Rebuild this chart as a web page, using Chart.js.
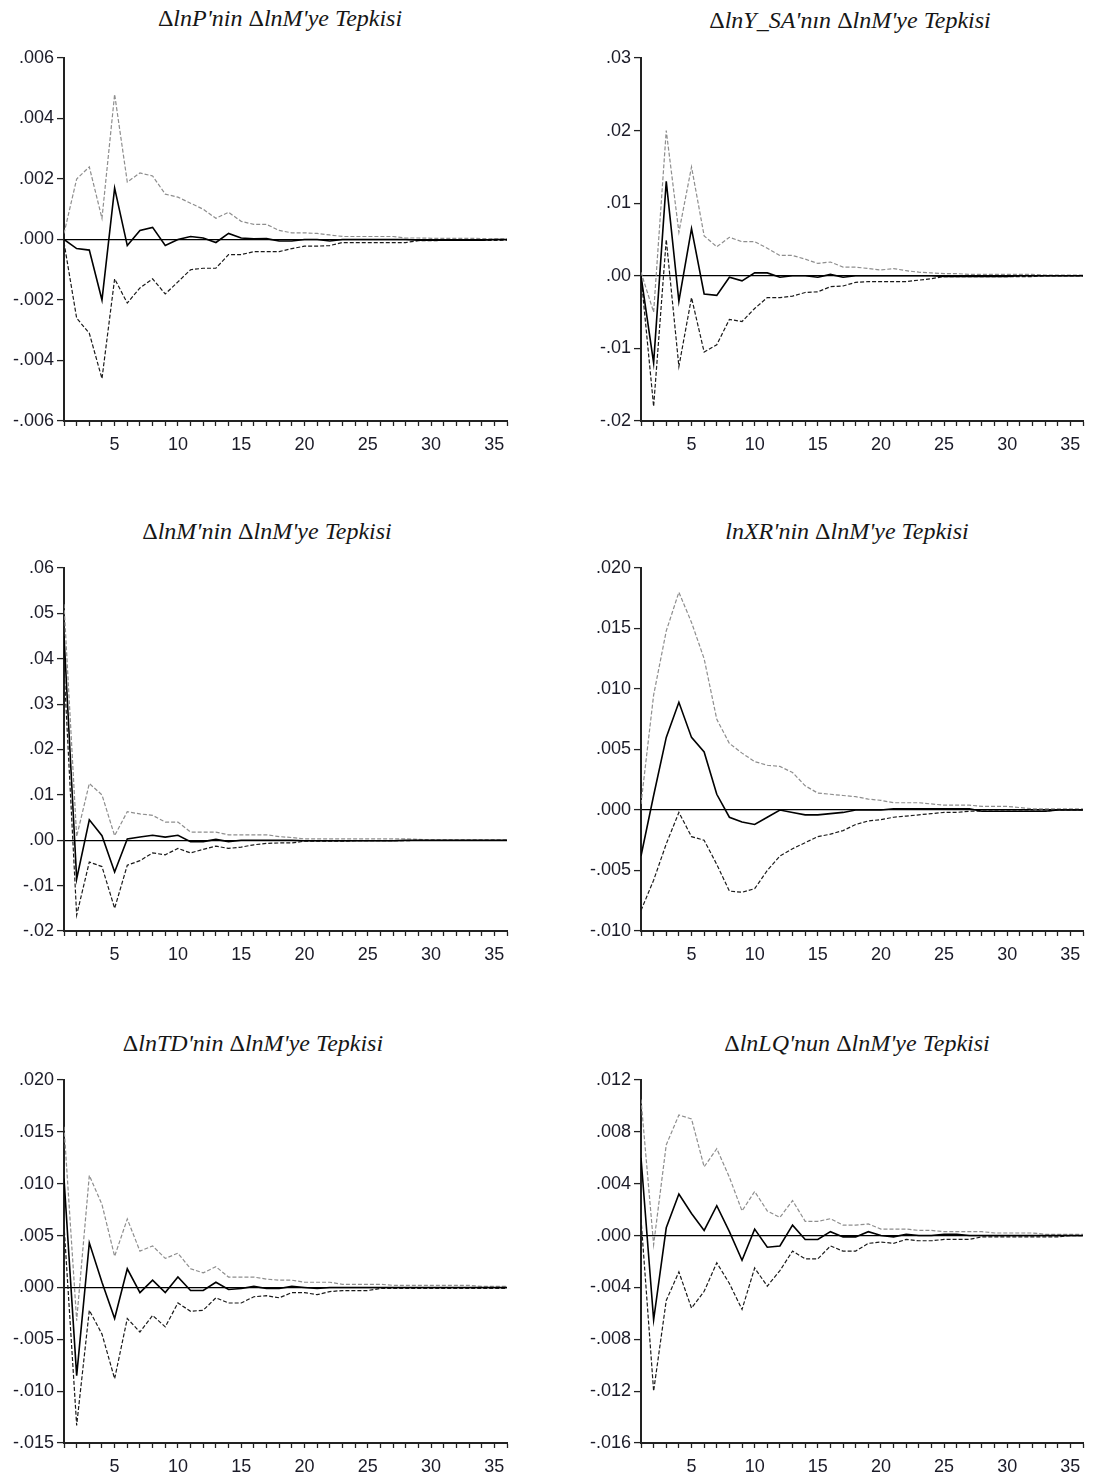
<!DOCTYPE html>
<html>
<head>
<meta charset="utf-8">
<script src="https://cdn.jsdelivr.net/npm/chart.js@4.4.1/dist/chart.umd.min.js"></script>
<style>
  body { margin: 0; background: #fff; }
  #page { position: relative; width: 1093px; height: 1479px; overflow: hidden; background: #fff; }
  canvas { position: absolute; }
  .title {
    position: absolute; width: 500px; text-align: center;
    font: italic 24px "Liberation Serif", "Times New Roman", serif;
    line-height: 28px; color: #161616; white-space: nowrap;
  }
  .title .d { font-style: normal; }
</style>
</head>
<body>
<div id="page"></div>
<script>
// periods 1..36 of the impulse responses
const periods = Array.from({ length: 36 }, (_, i) => i + 1);

// ΔlnP
const respP  = [0, -0.0003, -0.00035, -0.002, 0.0017, -0.0002, 0.0003, 0.0004, -0.0002, 0, 0.0001, 0.00005, -0.0001, 0.0002, 0.00005, 0.00002, 0.00003, -0.00005, -0.00005, 0, 0, -0.00005, 0, 0, 0, 0, 0, 0, -0.00002, -0.00002, -0.00002, -0.00002, -0.00002, -0.00002, 0, 0];
const upperP = [0.0002, 0.002, 0.0024, 0.0007, 0.0048, 0.0019, 0.0022, 0.0021, 0.0015, 0.0014, 0.0012, 0.001, 0.0007, 0.0009, 0.0006, 0.0005, 0.0005, 0.0003, 0.00022, 0.00022, 0.0002, 0.00015, 0.0001, 0.0001, 0.0001, 0.0001, 0.0001, 0.00005, 0.00005, 0.00004, 0.00004, 0.00004, 0.00004, 0.00003, 0.00002, 0.00002];
const lowerP = [-0.0001, -0.0026, -0.0031, -0.0046, -0.0013, -0.0021, -0.0016, -0.0013, -0.0018, -0.0014, -0.001, -0.00095, -0.00095, -0.0005, -0.0005, -0.0004, -0.0004, -0.0004, -0.0003, -0.00022, -0.00022, -0.0002, -0.0001, -0.0001, -0.0001, -0.0001, -0.0001, -0.0001, -0.00004, -0.00004, -0.00003, -0.00003, -0.00003, -0.00003, -0.00003, -0.00002];
const ticksP = ['.006', '.004', '.002', '.000', '-.002', '-.004', '-.006'];

// ΔlnY_SA
const respY  = [0, -0.012, 0.013, -0.0035, 0.0065, -0.0025, -0.0027, -0.0002, -0.0007, 0.0004, 0.0004, -0.0002, 0, 0, -0.0002, 0.0002, -0.0002, 0, 0, 0, 0, 0, 0, 0, -0.0001, -0.0001, -0.0001, -0.0001, -0.0001, -0.0001, 0, 0, 0, 0, 0, 0];
const upperY = [0.0005, -0.005, 0.020, 0.006, 0.015, 0.0055, 0.004, 0.0053, 0.0047, 0.0047, 0.0038, 0.0028, 0.0028, 0.0023, 0.0017, 0.0019, 0.0012, 0.0012, 0.001, 0.0008, 0.001, 0.0007, 0.0005, 0.0004, 0.0003, 0.0003, 0.0002, 0.0002, 0.0002, 0.0002, 0.0002, 0.0002, 0.0001, 0.0001, 0.0001, 0.0001];
const lowerY = [0, -0.018, 0.005, -0.0125, -0.003, -0.0105, -0.0095, -0.006, -0.0063, -0.0045, -0.003, -0.003, -0.0028, -0.0023, -0.0022, -0.0015, -0.0014, -0.0009, -0.0008, -0.0008, -0.0008, -0.0008, -0.0006, -0.0004, -0.0001, -0.0001, -0.0001, -0.0001, -0.0001, -0.0001, -0.0001, -0.0001, 0, 0, 0, 0];
const ticksY = ['.03', '.02', '.01', '.00', '-.01', '-.02'];

// ΔlnM
const respM  = [0.045, -0.0085, 0.0045, 0.001, -0.007, 0.0003, 0.0007, 0.0011, 0.0007, 0.0011, -0.0003, -0.0003, 0.0002, -0.0003, 0, 0, 0, 0, 0, -0.0001, -0.0001, -0.0001, -0.0001, -0.0001, -0.0001, -0.0001, -0.0001, 0, 0, 0, 0, 0, 0, 0, 0, 0];
const upperM = [0.052, 0.0008, 0.0125, 0.0100, 0.001, 0.0063, 0.0058, 0.0055, 0.004, 0.004, 0.0018, 0.0018, 0.0018, 0.0012, 0.0012, 0.0012, 0.0012, 0.0008, 0.0006, 0.0003, 0.0003, 0.0003, 0.0003, 0.0003, 0.0003, 0.0003, 0.0003, 0.0003, 0.0002, 0.0001, 0.0001, 0.0001, 0.0001, 0.0001, 0.0001, 0.0001];
const lowerM = [0.038, -0.0165, -0.0048, -0.0058, -0.015, -0.0055, -0.0045, -0.0028, -0.0032, -0.0018, -0.0028, -0.002, -0.0013, -0.0018, -0.0015, -0.001, -0.0007, -0.0006, -0.0006, -0.0002, -0.0002, -0.0002, -0.0002, -0.0001, -0.0001, -0.0001, -0.0001, -0.0001, 0, 0, 0, 0, 0, 0, 0, 0];
const ticksM = ['.06', '.05', '.04', '.03', '.02', '.01', '.00', '-.01', '-.02'];

// lnXR
const respXR  = [-0.0038, 0.0012, 0.006, 0.0089, 0.006, 0.0048, 0.0013, -0.0006, -0.001, -0.0012, -0.0006, 0, -0.0002, -0.0004, -0.0004, -0.0003, -0.0002, 0, 0, 0, 0.0001, 0.0001, 0.0001, 0.0001, 0.0001, 0.0001, 0.0001, -0.0001, -0.0001, -0.0001, -0.0001, -0.0001, -0.0001, 0, 0, 0];
const upperXR = [0.0005, 0.0095, 0.0148, 0.018, 0.0155, 0.0125, 0.0075, 0.0055, 0.0047, 0.004, 0.0037, 0.0036, 0.0031, 0.002, 0.0014, 0.0013, 0.0012, 0.0011, 0.0009, 0.0008, 0.0006, 0.0006, 0.0006, 0.0005, 0.0004, 0.0004, 0.0004, 0.0003, 0.0003, 0.0003, 0.0002, 0.0001, 0.0001, 0.0001, 0.0001, 0.0001];
const lowerXR = [-0.0083, -0.0058, -0.0028, -0.0002, -0.0022, -0.0025, -0.0045, -0.0067, -0.0068, -0.0065, -0.005, -0.0038, -0.0032, -0.0027, -0.0022, -0.002, -0.0017, -0.0012, -0.0009, -0.0008, -0.0006, -0.0005, -0.0004, -0.0003, -0.0002, -0.0002, -0.0001, -0.0001, -0.0001, -0.0001, -0.0001, -0.0001, -0.0001, 0, 0, 0];
const ticksXR = ['.020', '.015', '.010', '.005', '.000', '-.005', '-.010'];

// ΔlnTD
const respTD  = [0.0105, -0.0085, 0.0043, 0.0005, -0.003, 0.0018, -0.0005, 0.0007, -0.0005, 0.001, -0.0003, -0.0003, 0.0005, -0.0002, -0.0001, 0.0001, -0.0001, -0.0001, 0.0001, 0, -0.0001, 0, 0, 0, 0, 0, 0, 0, 0, 0, 0, 0, 0, 0, 0, 0];
const upperTD = [0.0155, -0.0032, 0.0108, 0.008, 0.003, 0.0066, 0.0035, 0.004, 0.0028, 0.0033, 0.0018, 0.0014, 0.002, 0.001, 0.001, 0.001, 0.0008, 0.0007, 0.0007, 0.0005, 0.0005, 0.0005, 0.0003, 0.0003, 0.0003, 0.0003, 0.0002, 0.0002, 0.0002, 0.0002, 0.0002, 0.0002, 0.0002, 0.0001, 0.0001, 0.0001];
const lowerTD = [0.006, -0.0133, -0.0022, -0.0045, -0.0088, -0.003, -0.0043, -0.0027, -0.0038, -0.0015, -0.0023, -0.0022, -0.001, -0.0015, -0.0015, -0.0009, -0.0008, -0.001, -0.0005, -0.0005, -0.0007, -0.0004, -0.0003, -0.0003, -0.0003, -0.0001, -0.0001, -0.0001, -0.0001, -0.0001, -0.0001, -0.0001, -0.0001, -0.0001, -0.0001, -0.0001];
const ticksTD = ['.020', '.015', '.010', '.005', '.000', '-.005', '-.010', '-.015'];

// ΔlnLQ
const respLQ  = [0.006, -0.0065, 0.0006, 0.0032, 0.0017, 0.0004, 0.0023, 0.0003, -0.0019, 0.0005, -0.0009, -0.0008, 0.0008, -0.0003, -0.0003, 0.0003, -0.0001, -0.0001, 0.0003, 0, -0.0001, 0.0001, 0, 0, 0.0001, 0.0001, 0, 0, 0, 0, 0, 0, 0, 0, 0, 0];
const upperLQ = [0.0105, -0.0007, 0.007, 0.0093, 0.009, 0.0053, 0.0067, 0.0045, 0.0019, 0.0034, 0.0019, 0.0014, 0.0027, 0.0011, 0.0011, 0.0013, 0.0008, 0.0008, 0.0009, 0.0005, 0.0005, 0.0005, 0.0004, 0.0004, 0.0003, 0.0003, 0.0003, 0.0003, 0.0002, 0.0002, 0.0002, 0.0002, 0.0001, 0.0001, 0.0001, 0.0001];
const lowerLQ = [0.0013, -0.012, -0.005, -0.0028, -0.0056, -0.0043, -0.0021, -0.0037, -0.0057, -0.0025, -0.0039, -0.0027, -0.0012, -0.0018, -0.0018, -0.0008, -0.0012, -0.0012, -0.0006, -0.0005, -0.0006, -0.0003, -0.0004, -0.0004, -0.0003, -0.0003, -0.0003, -0.0001, -0.0001, -0.0001, -0.0001, -0.0001, -0.0001, -0.0001, 0, 0];
const ticksLQ = ['.012', '.008', '.004', '.000', '-.004', '-.008', '-.012', '-.016'];

const panels = [
  { title: "ΔlnP'nin ΔlnM'ye Tepkisi",    resp: respP,  upper: upperP,  lower: lowerP,  ticks: ticksP,  col: 0, top: 58,   titleX: 280, titleY: 18 },
  { title: "ΔlnY_SA'nın ΔlnM'ye Tepkisi", resp: respY,  upper: upperY,  lower: lowerY,  ticks: ticksY,  col: 1, top: 58,   titleX: 850, titleY: 20 },
  { title: "ΔlnM'nin ΔlnM'ye Tepkisi",    resp: respM,  upper: upperM,  lower: lowerM,  ticks: ticksM,  col: 0, top: 568,  titleX: 267, titleY: 531 },
  { title: "lnXR'nin ΔlnM'ye Tepkisi",    resp: respXR, upper: upperXR, lower: lowerXR, ticks: ticksXR, col: 1, top: 568,  titleX: 847, titleY: 531 },
  { title: "ΔlnTD'nin ΔlnM'ye Tepkisi",   resp: respTD, upper: upperTD, lower: lowerTD, ticks: ticksTD, col: 0, top: 1080, titleX: 253, titleY: 1043 },
  { title: "ΔlnLQ'nun ΔlnM'ye Tepkisi",   resp: respLQ, upper: upperLQ, lower: lowerLQ, ticks: ticksLQ, col: 1, top: 1080, titleX: 857, titleY: 1043 }
];

// left/right column geometry: canvas left, canvas width, y-axis width, right padding
const columns = [
  { left: 0,   width: 520, axisW: 64, padR: 13 },
  { left: 570, width: 523, axisW: 71, padR: 10 }
];
const plotH = 363, padTop = 20, xAxisH = 40;
const tickFont = { family: '"Liberation Sans", Arial, sans-serif', size: 18 };
const tickColor = '#1b1b28';
const axisColor = '#222';

const page = document.getElementById('page');

function toPoints(arr) {
  return arr.map((v, i) => ({ x: periods[i], y: v }));
}

// the delta sign stays upright inside the italic title
function titleHtml(text) {
  return text.split('Δ').join('<span class="d">Δ</span>');
}

panels.forEach(p => {
  const c = columns[p.col];

  const t = document.createElement('div');
  t.className = 'title';
  t.innerHTML = titleHtml(p.title);
  t.style.left = (p.titleX - 250) + 'px';
  t.style.top = (p.titleY - 14) + 'px';
  page.appendChild(t);

  const canvas = document.createElement('canvas');
  canvas.width = c.width;
  canvas.height = padTop + plotH + xAxisH;
  canvas.style.left = c.left + 'px';
  canvas.style.top = (p.top - padTop) + 'px';
  page.appendChild(canvas);

  const tickValues = p.ticks.map(s => parseFloat(s));

  new Chart(canvas.getContext('2d'), {
    type: 'line',
    data: {
      datasets: [
        { data: toPoints(p.resp), borderColor: '#000', borderWidth: 1.6 },
        { data: toPoints(p.lower), borderColor: '#1a1a1a', borderWidth: 1.2, borderDash: [4, 2] },
        { data: toPoints(p.upper), borderColor: '#8e8e8e', borderWidth: 1.2, borderDash: [4, 2] }
      ]
    },
    options: {
      responsive: false,
      animation: false,
      layout: { padding: { top: padTop, right: c.padR, bottom: 0, left: 0 } },
      elements: { point: { radius: 0 }, line: { tension: 0 } },
      plugins: { legend: { display: false }, tooltip: { enabled: false } },
      scales: {
        x: {
          type: 'linear',
          min: 1,
          max: 36,
          afterFit: scale => { scale.height = xAxisH; },
          grid: { drawOnChartArea: false, tickLength: 5, tickColor: axisColor, tickWidth: 1.3 },
          border: { display: true, color: axisColor, width: 2 },
          ticks: {
            stepSize: 1,
            autoSkip: false,
            maxRotation: 0,
            padding: 8,
            color: tickColor,
            font: tickFont,
            callback: v => (v % 5 === 0 ? String(v) : '')
          }
        },
        y: {
          min: tickValues[tickValues.length - 1],
          max: tickValues[0],
          afterFit: scale => { scale.width = c.axisW; },
          afterBuildTicks: scale => { scale.ticks = tickValues.map(v => ({ value: v })); },
          grid: {
            color: ctx => (ctx.tick && ctx.tick.value === 0 ? '#000' : 'rgba(0,0,0,0)'),
            lineWidth: 1.2,
            tickLength: 7,
            tickColor: axisColor,
            tickWidth: 1.3
          },
          border: { display: true, color: axisColor, width: 2 },
          ticks: {
            padding: 3,
            color: tickColor,
            font: tickFont,
            callback: v => p.ticks[tickValues.indexOf(v)]
          }
        }
      }
    }
  });
});
</script>
</body>
</html>
